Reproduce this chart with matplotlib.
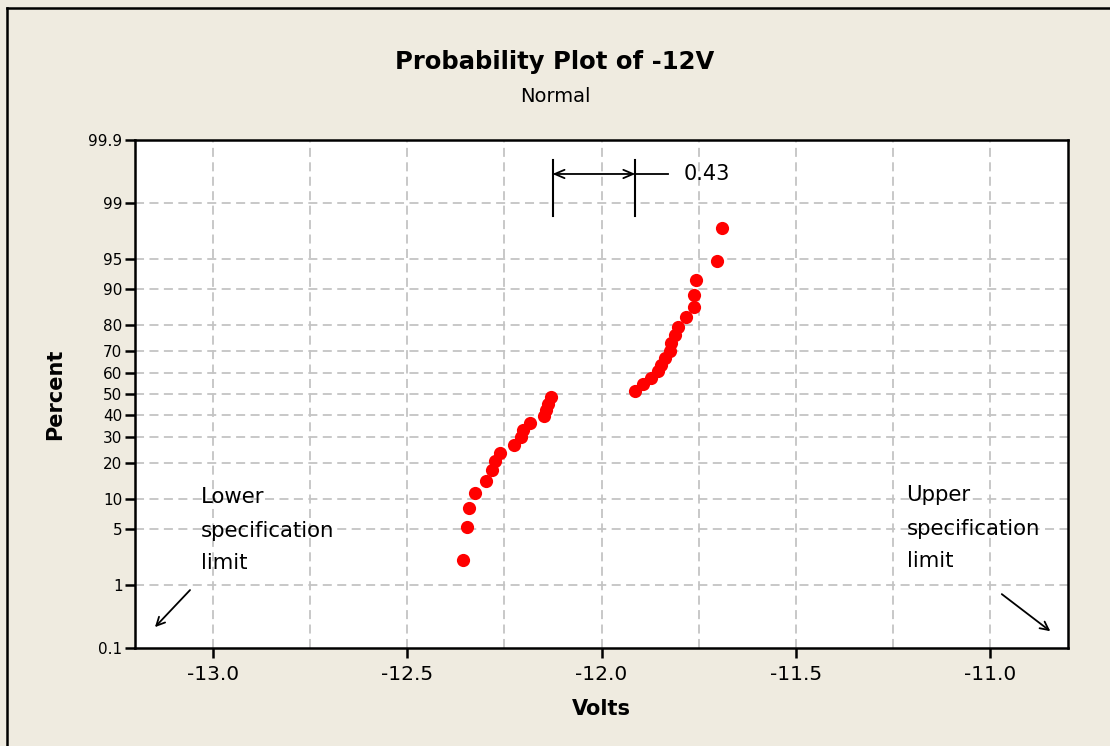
import math
import numpy as np
import matplotlib
matplotlib.use("Agg")
import matplotlib.pyplot as plt
from matplotlib.lines import Line2D
import matplotlib.transforms as mtransforms

# ---------------- data ----------------
volts = [-12.357, -12.345, -12.341, -12.326, -12.296, -12.281, -12.275, -12.260,
         -12.226, -12.207, -12.202, -12.183, -12.147, -12.144, -12.138, -12.131,
         -11.913, -11.894, -11.872, -11.855, -11.846, -11.837, -11.825, -11.820,
         -11.812, -11.802, -11.782, -11.763, -11.763, -11.758, -11.704, -11.689]
percent = [2.16, 5.25, 8.33, 11.42, 14.51, 17.59, 20.68, 23.77,
           26.85, 29.94, 33.02, 36.11, 39.20, 42.28, 45.37, 48.46,
           51.54, 54.63, 57.72, 60.80, 63.89, 66.98, 70.06, 73.15,
           76.23, 79.32, 82.41, 85.49, 88.58, 91.67, 94.75, 97.84]
y_ticks = [0.1, 1, 5, 10, 20, 30, 40, 50, 60, 70, 80, 90, 95, 99, 99.9]
y_ticklabels = ["0.1", "1", "5", "10", "20", "30", "40", "50", "60", "70",
                "80", "90", "95", "99", "99.9"]
x_ticks = [-13.0, -12.5, -12.0, -11.5, -11.0]
x_ticklabels = ["-13.0", "-12.5", "-12.0", "-11.5", "-11.0"]
x_minor = [-12.75, -12.25, -11.75, -11.25]
bracket_x = [-12.126, -11.913]
gap_label = "0.43"
title = "Probability Plot of -12V"
subtitle = "Normal"
lower_lines = ["Lower", "specification", "limit"]
upper_lines = ["Upper", "specification", "limit"]

# ---------------- normal probability scale ----------------
_erf = np.vectorize(math.erf)


def _ppf(p):
    p = np.clip(np.asarray(p, dtype=float), 1e-12, 1 - 1e-12)
    a = [-3.969683028665376e+01, 2.209460984245205e+02, -2.759285104469687e+02,
         1.383577518672690e+02, -3.066479806614716e+01, 2.506628277459239e+00]
    b = [-5.447609879822406e+01, 1.615858368580409e+02, -1.556989798598866e+02,
         6.680131188771972e+01, -1.328068155288572e+01]
    c = [-7.784894002430293e-03, -3.223964580411365e-01, -2.400758277161838e+00,
         -2.549732539343734e+00, 4.374664141464968e+00, 2.938163982698783e+00]
    d = [7.784695709041462e-03, 3.224671290700398e-01, 2.445134137142996e+00,
         3.754408661907416e+00]
    plow = 0.02425
    phigh = 1 - plow
    out = np.empty_like(p)
    lo = p < plow
    hi = p > phigh
    mid = ~(lo | hi)
    q = np.sqrt(-2 * np.log(p[lo]))
    out[lo] = (((((c[0]*q+c[1])*q+c[2])*q+c[3])*q+c[4])*q+c[5]) / \
              ((((d[0]*q+d[1])*q+d[2])*q+d[3])*q+1)
    q = p[mid] - 0.5
    r = q * q
    out[mid] = (((((a[0]*r+a[1])*r+a[2])*r+a[3])*r+a[4])*r+a[5])*q / \
               (((((b[0]*r+b[1])*r+b[2])*r+b[3])*r+b[4])*r+1)
    q = np.sqrt(-2 * np.log(1 - p[hi]))
    out[hi] = -(((((c[0]*q+c[1])*q+c[2])*q+c[3])*q+c[4])*q+c[5]) / \
               ((((d[0]*q+d[1])*q+d[2])*q+d[3])*q+1)
    return out


def forward(pct):
    return _ppf(np.asarray(pct, dtype=float) / 100.0)


def inverse(z):
    z = np.asarray(z, dtype=float)
    return 50.0 * (1 + _erf(z / math.sqrt(2)))


# ---------------- figure ----------------
bg = "#EFEBE0"
fig = plt.figure(figsize=(11.10, 7.46), dpi=100, facecolor=bg)
plt.rcParams['font.family'] = ['DejaVu Sans']
ax = fig.add_axes([0.1216, 0.1314, 0.8406, 0.6810])
ax.set_facecolor("white")

ax.set_yscale('function', functions=(forward, inverse))
ax.set_ylim(0.1, 99.9)
ax.set_xlim(-13.2, -10.8)

ax.set_yticks(y_ticks)
ax.set_yticklabels(y_ticklabels)
ax.yaxis.set_minor_locator(matplotlib.ticker.NullLocator())
ax.set_xticks(x_ticks)
ax.set_xticklabels(x_ticklabels)
ax.set_xticks(x_minor, minor=True)

grid_kw = dict(color="#C4C4C4", linestyle=(0, (5, 3)), linewidth=1.3)
for yv in y_ticks[1:-1]:
    ax.axhline(yv, zorder=0, **grid_kw)
for xv in x_ticks + x_minor:
    ax.axvline(xv, zorder=0, **grid_kw)

for s in ax.spines.values():
    s.set_linewidth(1.8)
    s.set_color("black")

ax.tick_params(axis='y', which='major', length=7, width=1.8, pad=2,
               labelsize=11)
ax.tick_params(axis='x', which='major', length=7, width=1.8, pad=5,
               labelsize=14.5)
ax.tick_params(axis='x', which='minor', length=0)

ax.plot(volts, percent, 'o', color="#FF0000", markersize=9.5,
        markeredgewidth=0, zorder=3)

ax.set_xlabel("Volts", fontsize=15, fontweight='bold', labelpad=11)
ax.set_ylabel("Percent", fontsize=15, fontweight='bold', labelpad=17)

fig.text(0.5, 0.917, title, ha='center', va='center', fontsize=17.5,
         fontweight='bold')
fig.text(0.5, 0.871, subtitle, ha='center', va='center', fontsize=14)

# ---------------- annotations ----------------
trans = mtransforms.blended_transform_factory(ax.transData, ax.transAxes)
for bx in bracket_x:
    ax.plot([bx, bx], [0.850, 0.961], color="black", lw=1.5, transform=trans,
            clip_on=False)
ax.annotate("", xy=(bracket_x[0], 0.933), xytext=(bracket_x[1], 0.933),
            xycoords=trans, textcoords=trans,
            arrowprops=dict(arrowstyle="<->,head_length=0.7,head_width=0.3",
                            color="black", lw=1.3, shrinkA=0, shrinkB=0))
ax.plot([bracket_x[1], -11.830], [0.933, 0.933], color="black", lw=1.3,
        transform=trans)
ax.text(-11.789, 0.933, gap_label, transform=trans, ha='left', va='center',
        fontsize=15)

for txt, yy in zip(lower_lines, [0.297, 0.230, 0.167]):
    ax.text(0.0707, yy, txt, transform=ax.transAxes, ha='left',
            va='center', fontsize=15.3)
for txt, yy in zip(upper_lines, [0.301, 0.234, 0.171]):
    ax.text(0.827, yy, txt, transform=ax.transAxes, ha='left',
            va='center', fontsize=15.3)
ax.annotate("", xy=(0.0214, 0.041), xytext=(0.059, 0.114),
            xycoords=ax.transAxes, textcoords=ax.transAxes,
            arrowprops=dict(arrowstyle="->,head_length=0.6,head_width=0.3",
                            color="black", lw=1.3, shrinkA=0, shrinkB=0))
ax.annotate("", xy=(0.981, 0.033), xytext=(0.929, 0.106),
            xycoords=ax.transAxes, textcoords=ax.transAxes,
            arrowprops=dict(arrowstyle="->,head_length=0.6,head_width=0.3",
                            color="black", lw=1.3, shrinkA=0, shrinkB=0))

# figure border (left and top)
fig.add_artist(Line2D([7 / 1110, 7 / 1110], [0, 1 - 8 / 746],
                      transform=fig.transFigure, color="black", lw=1.8))
fig.add_artist(Line2D([7 / 1110, 1], [1 - 8 / 746, 1 - 8 / 746],
                      transform=fig.transFigure, color="black", lw=1.8))

fig.savefig("out.png", dpi=100, facecolor=bg)
